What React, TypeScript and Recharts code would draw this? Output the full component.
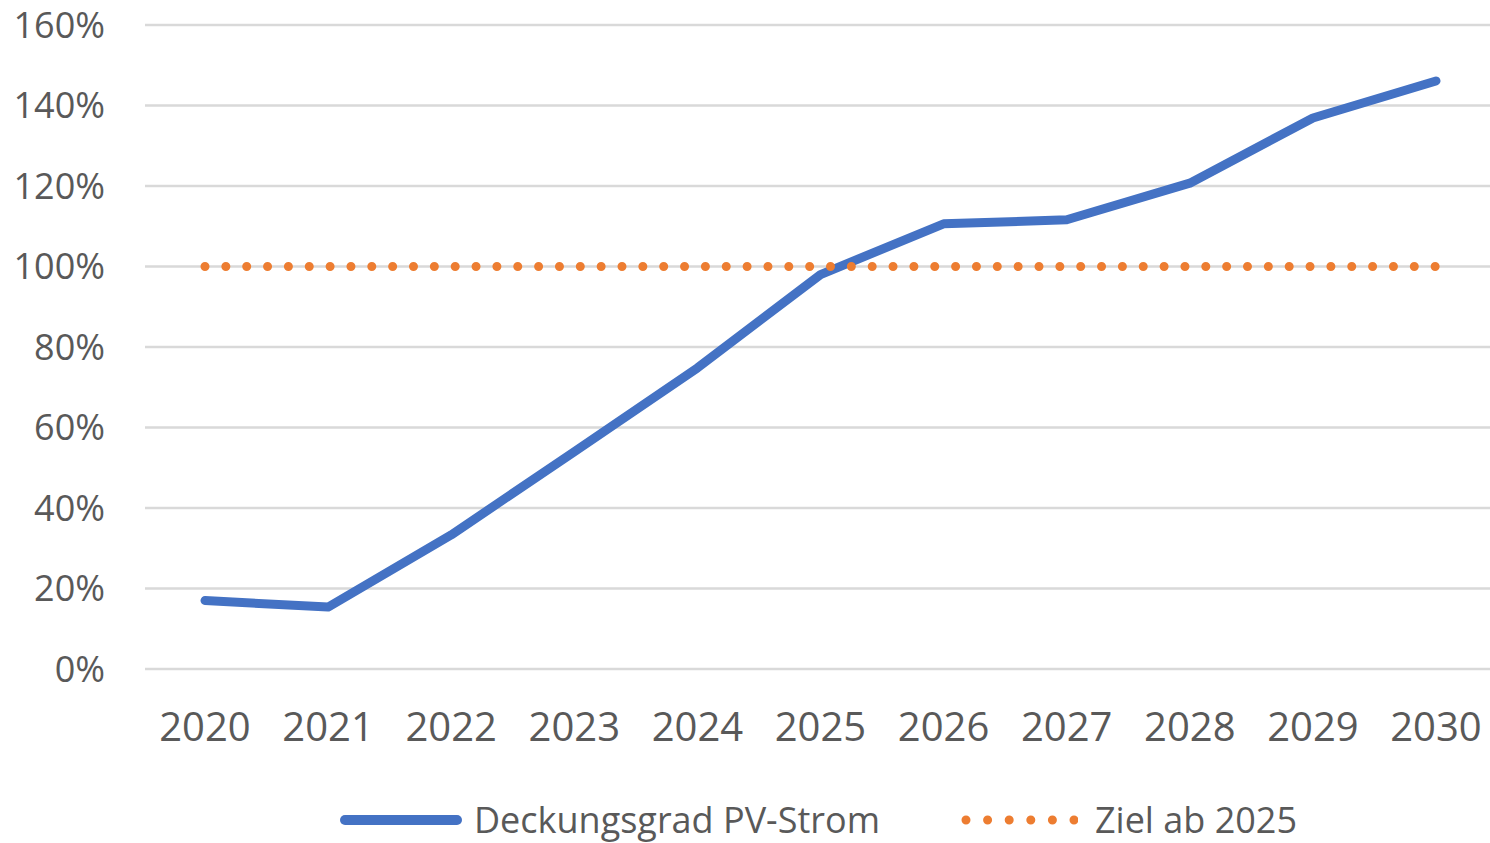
import { CartesianGrid, Legend, Line, LineChart, XAxis, YAxis } from "recharts";

const years = ["2020", "2021", "2022", "2023", "2024", "2025", "2026", "2027", "2028", "2029", "2030"];
const coverage = [17, 15.4, 33.3, 54, 74.8, 98, 110.6, 111.6, 120.7, 136.9, 146.1];
const target = [100, 100, 100, 100, 100, 100, 100, 100, 100, 100, 100];
const yTicks = [0, 20, 40, 60, 80, 100, 120, 140, 160];

const data = years.map((year, i) => ({
  year,
  coverage: coverage[i],
  target: target[i],
}));

const FONT = "'Open Sans', sans-serif";
const TEXT = "#595959";

function ChartLegend() {
  return (
    <div
      style={{
        display: "flex",
        justifyContent: "flex-start",
        alignItems: "center",
        fontFamily: FONT,
        fontSize: 36,
        lineHeight: 1,
        color: TEXT,
        height: 40,
        paddingLeft: 334,
      }}
    >
      <svg width={130} height={14} style={{ marginRight: 10 }}>
        <line x1={11} y1={7} x2={123} y2={7} stroke="#4472C4" strokeWidth={10} strokeLinecap="round" />
      </svg>
      <span>Deckungsgrad PV-Strom</span>
      <svg width={120} height={14} style={{ marginLeft: 78, marginRight: 17 }}>
        <line
          x1={8}
          y1={7}
          x2={117}
          y2={7}
          stroke="#ED7D31"
          strokeWidth={9}
          strokeLinecap="round"
          strokeDasharray="0 21.6"
        />
      </svg>
      <span>Ziel ab 2025</span>
    </div>
  );
}

export default function App() {
  return (
    <div style={{ position: "absolute", left: 0, top: 0 }}>
      <LineChart
        width={1490}
        height={843}
        data={data}
        margin={{ top: 25, right: 0, left: 0, bottom: 44 }}
      >
        <CartesianGrid vertical={false} stroke="#D9D9D9" strokeWidth={2.5} />
        <XAxis
          dataKey="year"
          axisLine={false}
          tickLine={false}
          padding={{ left: 60, right: 54 }}
          height={90}
          tickMargin={38}
          tick={{ fontSize: 40, fill: TEXT, fontFamily: FONT }}
        />
        <YAxis
          domain={[0, 160]}
          ticks={yTicks}
          width={145}
          axisLine={false}
          tickLine={false}
          tickSize={0}
          tickMargin={40}
          tickFormatter={(v: number) => `${v}%`}
          tick={{ fontSize: 36, fill: TEXT, fontFamily: FONT }}
        />
        <Legend
          verticalAlign="bottom"
          content={() => <ChartLegend />}
          wrapperStyle={{ top: 800, left: 0, width: 1490 }}
        />
        <Line
          dataKey="coverage"
          stroke="#4472C4"
          strokeWidth={9}
          strokeLinecap="round"
          strokeLinejoin="round"
          dot={false}
          activeDot={false}
          isAnimationActive={false}
        />
        <Line
          dataKey="target"
          stroke="#ED7D31"
          strokeWidth={9}
          strokeLinecap="round"
          strokeDasharray="0 20.85"
          dot={false}
          activeDot={false}
          isAnimationActive={false}
        />
      </LineChart>
    </div>
  );
}
